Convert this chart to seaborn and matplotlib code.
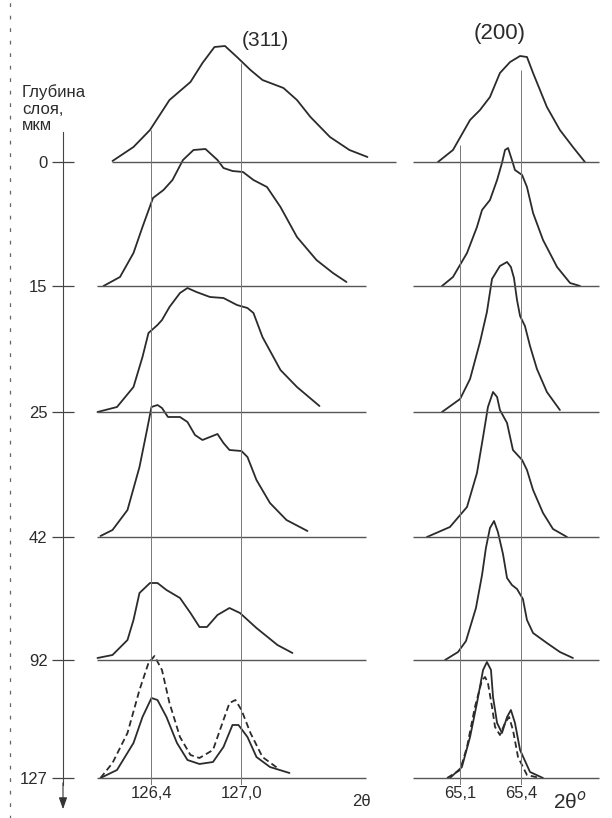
import numpy as np
import pandas as pd
import matplotlib.pyplot as plt
import seaborn as sns

# глубина слоя, мкм
depths = [0, 15, 25, 42, 92, 127]

# (311): 2theta, intensity (arb. units)
l0_x = [126.14, 126.28, 126.39, 126.52, 126.66, 126.74, 126.82, 126.89, 126.97, 127.06, 127.14, 127.28, 127.37, 127.46, 127.59, 127.72, 127.84]
l0_i = [1, 15, 32, 62, 80, 99, 115, 116, 105, 92, 82, 74, 62, 45, 25, 12, 5]
l15_x = [126.08, 126.19, 126.28, 126.34, 126.41, 126.48, 126.54, 126.61, 126.68, 126.76, 126.84, 126.88, 126.94, 127.01, 127.08, 127.17, 127.26, 127.37, 127.50, 127.61, 127.70]
l15_i = [0, 9, 33, 59, 88, 96, 106, 126, 136, 137, 126, 118, 115, 114, 106, 99, 79, 49, 26, 13, 4]
l25_x = [126.04, 126.17, 126.28, 126.34, 126.38, 126.44, 126.47, 126.52, 126.59, 126.64, 126.70, 126.79, 126.88, 126.97, 127.04, 127.08, 127.14, 127.26, 127.37, 127.52]
l25_i = [0, 5, 25, 55, 79, 87, 92, 105, 119, 124, 120, 115, 114, 107, 104, 99, 75, 42, 25, 6]
l42_x = [126.06, 126.14, 126.24, 126.32, 126.37, 126.40, 126.44, 126.47, 126.51, 126.59, 126.64, 126.69, 126.74, 126.79, 126.84, 126.88, 126.92, 127.00, 127.04, 127.10, 127.19, 127.30, 127.44]
l42_i = [1, 7, 27, 70, 107, 130, 132, 129, 120, 120, 115, 102, 97, 100, 103, 94, 87, 86, 80, 57, 34, 17, 6]
l92_x = [126.04, 126.14, 126.24, 126.28, 126.32, 126.39, 126.44, 126.50, 126.59, 126.66, 126.72, 126.77, 126.84, 126.92, 126.99, 127.10, 127.24, 127.34]
l92_i = [2, 5, 20, 40, 67, 77, 77, 70, 62, 47, 33, 33, 45, 52, 47, 32, 15, 7]
l127_x = [126.06, 126.17, 126.28, 126.34, 126.40, 126.44, 126.50, 126.57, 126.64, 126.72, 126.81, 126.88, 126.94, 126.98, 127.04, 127.10, 127.19, 127.32]
l127_i = [0, 8, 35, 61, 80, 78, 61, 35, 18, 14, 16, 31, 53, 53, 41, 21, 11, 5]
l127d_x = [126.06, 126.14, 126.24, 126.32, 126.38, 126.42, 126.47, 126.52, 126.59, 126.66, 126.72, 126.81, 126.88, 126.92, 126.96, 127.00, 127.06, 127.14, 127.24]
l127d_i = [0, 15, 45, 88, 115, 122, 108, 75, 41, 23, 20, 28, 58, 75, 78, 68, 45, 21, 10]

# (200)
r0_x = [64.989, 65.063, 65.147, 65.196, 65.245, 65.294, 65.344, 65.393, 65.427, 65.457, 65.525, 65.589, 65.653, 65.712]
r0_i = [0, 12, 42, 52, 65, 89, 100, 106, 105, 89, 55, 32, 15, 0]
r15_x = [65.009, 65.063, 65.132, 65.181, 65.206, 65.245, 65.280, 65.304, 65.319, 65.334, 65.353, 65.368, 65.403, 65.427, 65.457, 65.506, 65.575, 65.639, 65.688]
r15_i = [0, 9, 33, 59, 76, 86, 106, 123, 136, 138, 126, 116, 111, 99, 73, 46, 19, 3, 0]
r25_x = [65.009, 65.098, 65.147, 65.196, 65.230, 65.255, 65.294, 65.329, 65.348, 65.363, 65.378, 65.393, 65.417, 65.442, 65.476, 65.525, 65.589]
r25_i = [0, 13, 33, 70, 100, 133, 146, 150, 145, 134, 112, 96, 86, 66, 43, 20, 2]
r42_x = [64.935, 65.048, 65.132, 65.181, 65.211, 65.235, 65.260, 65.280, 65.294, 65.329, 65.358, 65.403, 65.427, 65.457, 65.506, 65.555, 65.624]
r42_i = [0, 10, 30, 64, 100, 130, 145, 140, 127, 114, 87, 77, 67, 47, 24, 8, 0]
r92_x = [65.024, 65.088, 65.127, 65.176, 65.206, 65.225, 65.245, 65.265, 65.284, 65.309, 65.329, 65.353, 65.378, 65.407, 65.427, 65.457, 65.525, 65.589, 65.653]
r92_i = [0, 8, 19, 52, 85, 112, 132, 139, 128, 106, 82, 75, 71, 61, 40, 27, 17, 8, 2]
r127_x = [65.048, 65.107, 65.147, 65.181, 65.211, 65.230, 65.250, 65.260, 65.280, 65.304, 65.329, 65.348, 65.368, 65.393, 65.442, 65.506]
r127_i = [0, 11, 41, 75, 108, 116, 108, 81, 55, 45, 61, 68, 55, 28, 6, 0]
r127d_x = [65.034, 65.098, 65.132, 65.171, 65.206, 65.221, 65.235, 65.255, 65.270, 65.294, 65.319, 65.339, 65.358, 65.383, 65.427, 65.491]
r127d_i = [0, 8, 31, 71, 98, 101, 95, 71, 51, 43, 55, 61, 48, 21, 3, 0]

left_ticks = [126.4, 127.0]
left_ticklabels = ["126,4", "127,0"]
right_ticks = [65.1, 65.4]
right_ticklabels = ["65,1", "65,4"]

# baseline level of each depth on the page (px from top)
levels = [162, 286, 412, 537, 660, 778]


def build(curves):
    rows = []
    for k, (d, kind, xs, ys) in enumerate(curves):
        base = levels[depths.index(d)]
        for x, v in zip(xs, ys):
            rows.append({"two_theta": x, "y": base - v, "curve": k, "kind": kind})
    return pd.DataFrame(rows)


df_l = build([(0, "solid", l0_x, l0_i), (15, "solid", l15_x, l15_i), (25, "solid", l25_x, l25_i),
              (42, "solid", l42_x, l42_i), (92, "solid", l92_x, l92_i), (127, "solid", l127_x, l127_i),
              (127, "dashed", l127d_x, l127d_i)])
df_r = build([(0, "solid", r0_x, r0_i), (15, "solid", r15_x, r15_i), (25, "solid", r25_x, r25_i),
              (42, "solid", r42_x, r42_i), (92, "solid", r92_x, r92_i), (127, "solid", r127_x, r127_i),
              (127, "dashed", r127d_x, r127d_i)])

sns.set_style("white")
plt.rcParams["font.family"] = ["Liberation Sans", "DejaVu Sans"]

ink = "#2b2b2b"
fig = plt.figure(figsize=(6.12, 8.18), dpi=100)
bot = (818 - 785) / 818
axl = fig.add_axes([0, bot, 400 / 612, 1 - bot])
axr = fig.add_axes([400 / 612, bot, 212 / 612, 1 - bot])
for ax in (axl, axr):
    ax.patch.set_alpha(0)
    ax.set_ylim(785, 0)
    for s in ax.spines.values():
        s.set_visible(False)
axl.set_xlim(125.39, 128.057)
axr.set_xlim(64.8024, 65.8453)

for ax, df in ((axl, df_l), (axr, df_r)):
    sns.lineplot(data=df, x="two_theta", y="y", units="curve", style="kind", estimator=None, sort=False,
                 dashes={"solid": "", "dashed": (3.5, 2)}, color=ink, linewidth=1.3, legend=False, ax=ax,
                 solid_joinstyle="round", dash_joinstyle="round")
    ax.set_xlabel("")
    ax.set_ylabel("")

# baselines
axl.hlines(levels[0], 126.137, 128.03, color="#555", lw=1.0)
axl.hlines(levels[1:], 126.037, 127.83, color="#555", lw=1.0)
axr.hlines(levels, 64.866, 65.78, color="#555", lw=1.0)

# reference lines
axl.vlines(126.4, 130, 785, color="#777", lw=0.7)
axl.vlines(127.0, 63, 785, color="#777", lw=0.7)
axr.vlines(65.1, 145, 785, color="#777", lw=0.7)
axr.vlines(65.4, 70, 785, color="#777", lw=0.7)

# depth axis
xa = 125.81
axl.spines["left"].set_visible(True)
axl.spines["left"].set_position(("data", xa))
axl.spines["left"].set_bounds(132, 785)
axl.spines["left"].set_color("#444")
axl.spines["left"].set_linewidth(0.8)
axl.set_yticks(levels, labels=[str(d) for d in depths])
axl.tick_params(axis="y", direction="inout", length=16, width=0.9, pad=3, labelsize=12,
                colors="#444", labelcolor=ink, left=True)
axl.annotate("", xy=(xa, 812), xytext=(xa, 780), annotation_clip=False,
             arrowprops=dict(arrowstyle="-|>,head_length=0.7,head_width=0.25", color="#333", lw=0.8))
axr.set_yticks([])
axr.tick_params(axis="y", left=False, labelleft=False)

# bottom tick labels
axl.set_xticks(left_ticks, labels=left_ticklabels)
axr.set_xticks(right_ticks, labels=right_ticklabels)
for ax in (axl, axr):
    ax.tick_params(axis="x", length=0, pad=1, labelsize=12, labelcolor=ink, bottom=True)

# margin line of the page
axl.axvline(125.457, ymin=-0.05, ymax=1, clip_on=False, color="#666", lw=0.9, ls=(0, (3, 7)))

axl.text(127.157, 40, "(311)", fontsize=15, ha="center", va="center", color=ink)
axr.text(65.294, 34, "(200)", fontsize=16, ha="center", va="center", color=ink)
axl.text(127.797, 801, "2θ", fontsize=12, ha="center", va="center", color=ink)
axr.text(65.639, 801, "2θ$^{o}$", fontsize=15, ha="center", va="center", color=ink)
fig.text(22 / 612, 1 - 84 / 818, "Глубина\nслоя,\nмкм", fontsize=12, ha="left", va="top",
         linespacing=1.15, color=ink)

plt.savefig("out.png", dpi=100)
